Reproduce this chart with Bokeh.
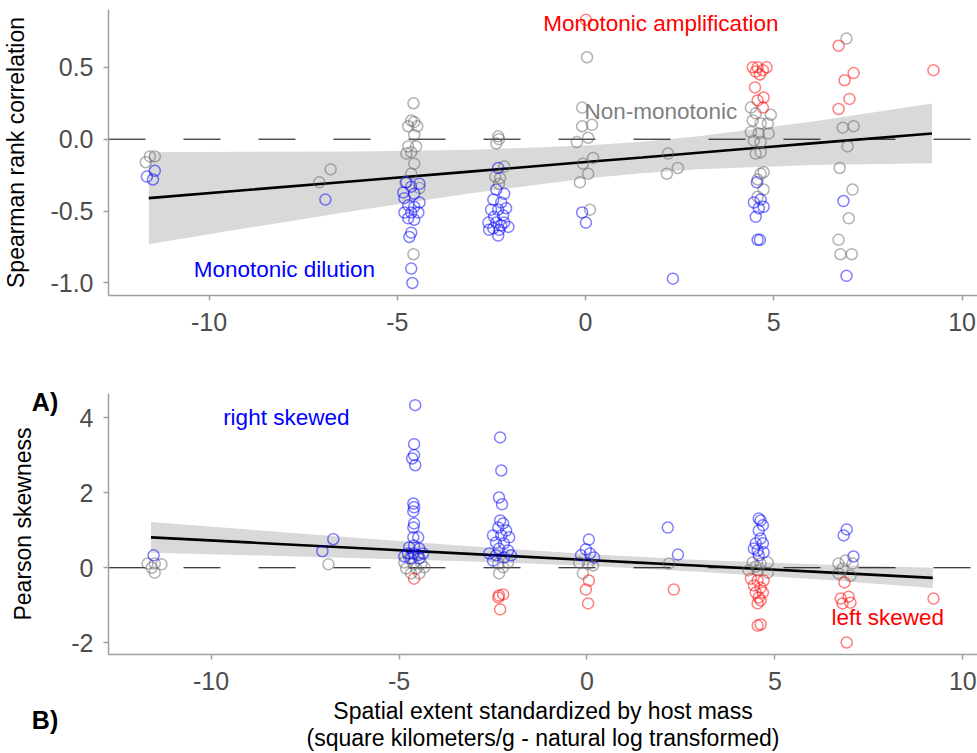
from bokeh.plotting import figure
from bokeh.layouts import column
from bokeh.models import Range1d, FixedTicker, PrintfTickFormatter, Label, LinearAxis
from bokeh.embed import file_html
from bokeh.resources import INLINE

# ---------------- Panel A: Spearman rank correlation ----------------
top_gray_x = [-11.57, -11.44, -11.68, -7.07, -6.77,
              -4.57, -4.63, -4.71, -4.47, -4.55, -4.55, -4.71, -4.50, -4.63, -4.76, -4.55, -4.63, -4.41, -4.78, -4.57,
              -2.32, -2.37, -2.30, -2.16, -2.40, -2.27, -2.30,
              0.04, -0.09, -0.09, 0.17, -0.23, 0.07, 0.20, -0.07, 0.07, -0.15, 0.12,
              2.19, 2.16, 2.45,
              4.39, 4.52, 4.92, 4.44, 4.65, 4.84, 4.39, 4.60, 4.86, 4.47, 4.65, 4.52, 4.65, 4.65, 4.73, 4.57, 4.73, 4.57,
              6.93, 6.83, 7.12, 6.96, 6.75, 7.09, 6.99, 6.72, 6.77, 7.07]
top_gray_y = [-0.12, -0.12, -0.16, -0.30, -0.21,
              0.25, 0.13, 0.09, 0.09, 0.12, 0.03, -0.05, -0.05, -0.09, -0.10, -0.17, -0.24, -0.34, -0.30, -0.80,
              0.02, -0.03, 0.00, -0.19, -0.26, -0.27, -0.31,
              0.57, 0.22, 0.09, 0.10, -0.02, 0.01, -0.13, -0.17, -0.24, -0.30, -0.49,
              -0.10, -0.24, -0.20,
              0.22, 0.18, 0.17, 0.13, 0.11, 0.11, 0.05, 0.04, 0.04, -0.01, -0.02, -0.10, -0.09, -0.24, -0.23, -0.28, -0.35, -0.40,
              0.70, 0.08, 0.09, -0.05, -0.20, -0.35, -0.55, -0.70, -0.80, -0.80]

top_blue_x = [-11.44, -11.65, -11.49, -6.91,
              -4.76, -4.41, -4.63, -4.84, -4.55, -4.81, -4.41, -4.71, -4.55, -4.81, -4.63, -4.44, -4.71, -4.55, -4.63, -4.68, -4.63, -4.60,
              -2.32, -2.37, -2.16, -2.45, -2.24, -2.11, -2.51, -2.32, -2.19, -2.43, -2.58, -2.37, -2.16, -2.24, -2.45, -2.29, -2.05, -2.56, -2.32,
              -0.09, 0.01,
              2.32,
              4.55, 4.47, 4.65, 4.60, 4.73, 4.52, 4.57, 4.63,
              6.85, 6.93]
top_blue_y = [-0.22, -0.26, -0.28, -0.42,
              -0.30, -0.31, -0.33, -0.37, -0.38, -0.41, -0.44, -0.46, -0.47, -0.51, -0.51, -0.51, -0.55, -0.56, -0.65, -0.68, -0.90, -1.00,
              -0.20, -0.35, -0.38, -0.42, -0.44, -0.48, -0.49, -0.49, -0.53, -0.54, -0.58, -0.58, -0.58, -0.60, -0.62, -0.63, -0.61, -0.63, -0.67,
              -0.51, -0.58,
              -0.97,
              -0.30, -0.44, -0.42, -0.48, -0.47, -0.54, -0.70, -0.70,
              -0.43, -0.95]

top_red_x = [0.01,
             4.44, 4.57, 4.71, 4.81, 4.52, 4.63, 4.50, 4.73, 4.57, 4.71,
             6.72, 7.12, 6.88, 7.01, 6.72,
             9.24]
top_red_y = [0.83,
             0.50, 0.50, 0.48, 0.50, 0.47, 0.45, 0.36, 0.29, 0.27, 0.22,
             0.65, 0.46, 0.41, 0.28, 0.21,
             0.48]

# fitted line and confidence band
fit_x = [-11.6, -9, -6, -3, 0, 1.5, 3, 6, 9.2]
top_fit = [-0.410, -0.353, -0.289, -0.224, -0.159, -0.127, -0.094, -0.029, 0.040]
top_upper = [-0.09, -0.088, -0.085, -0.073, -0.044, -0.017, 0.021, 0.122, 0.248]
top_lower = [-0.73, -0.618, -0.493, -0.375, -0.274, -0.237, -0.209, -0.180, -0.168]

# ---------------- Panel B: Pearson skewness ----------------
bot_gray_x = [-11.69, -11.50, -11.32, -11.58, -11.50, -6.88,
              -4.86, -4.62, -4.41, -4.81, -4.54, -4.33, -4.68, -4.46, -4.73,
              -2.36, -2.23, -2.34, -2.10,
              -0.21, 0.03, 0.16, -0.11,
              2.18,
              4.41, 4.62, 4.81, 4.30, 4.54, 4.81, 4.49,
              6.69, 6.88, 7.07, 6.80, 6.69, 7.01]
bot_gray_y = [0.11, 0.11, 0.09, 0.00, -0.13, 0.09,
              0.14, 0.11, 0.11, -0.02, -0.02, 0.01, -0.15, -0.15, 0.25,
              0.11, 0.01, -0.15, 0.14,
              0.14, 0.11, 0.06, -0.15,
              0.11,
              0.14, 0.11, 0.14, -0.07, -0.07, -0.13, 0.03,
              0.11, 0.19, 0.11, -0.02, -0.15, -0.21]

bot_blue_x = [-11.53, -7.04, -6.75,
              -4.57, -4.60, -4.60, -4.65, -4.57, -4.62, -4.60, -4.62, -4.60, -4.62, -4.62, -4.49, -4.73, -4.60, -4.46, -4.76, -4.62, -4.49, -4.36, -4.68, -4.46, -4.86,
              -2.31, -2.28, -2.34, -2.26, -2.31, -2.23, -2.36, -2.15, -2.50, -2.28, -2.07, -2.42, -2.21, -2.34, -2.10, -2.60, -2.42, -2.21, -2.02, -2.50,
              0.05, -0.03, 0.08, -0.16, 0.19,
              2.15, 2.42,
              4.57, 4.62, 4.68, 4.57, 4.62, 4.49, 4.68, 4.54, 4.70, 4.57, 4.44,
              6.91, 6.83, 7.09]
bot_blue_y = [0.33, 0.44, 0.76,
              4.33, 3.29, 3.00, 2.91, 2.73, 1.71, 1.61, 1.50, 1.18, 1.07, 0.81, 0.81, 0.54, 0.59, 0.51, 0.38, 0.38, 0.33, 0.38, 0.25, 0.25, 0.30,
              3.47, 2.59, 1.87, 1.69, 1.26, 1.18, 1.07, 0.99, 0.86, 0.86, 0.81, 0.67, 0.65, 0.51, 0.46, 0.38, 0.33, 0.27, 0.33, 0.19,
              0.75, 0.49, 0.38, 0.33, 0.27,
              1.07, 0.35,
              1.31, 1.26, 1.13, 0.99, 0.78, 0.65, 0.65, 0.46, 0.41, 0.33, 0.51,
              1.02, 0.86, 0.30]

bot_red_x = [-4.60,
             -2.34, -2.23, -2.36, -2.31,
             0.05, -0.03, 0.03,
             2.31,
             4.36, 4.54, 4.70, 4.44, 4.62, 4.49, 4.68, 4.57, 4.62, 4.54, 4.54, 4.62,
             6.85, 6.75, 6.96, 6.80, 7.01, 6.91,
             9.22]
bot_red_y = [-0.29,
             -0.74, -0.71, -0.79, -1.11,
             -0.34, -0.58, -0.95,
             -0.58,
             -0.29, -0.34, -0.34, -0.47, -0.53, -0.66, -0.66, -0.79, -0.87, -0.95, -1.54, -1.51,
             -0.39, -0.82, -0.77, -0.95, -0.93, -1.99,
             -0.82]

bot_fit = [0.810, 0.675, 0.519, 0.364, 0.208, 0.130, 0.052, -0.103, -0.269]
bot_upper = [1.22, 1.016, 0.784, 0.563, 0.364, 0.286, 0.208, 0.096, 0.001]
bot_lower = [0.40, 0.334, 0.254, 0.165, 0.052, -0.026, -0.104, -0.302, -0.539]

top_yticks = [-1.0, -0.5, 0.0, 0.5]
bot_yticks = [-2, 0, 2, 4]
xticks = [-10, -5, 0, 5, 10]

FONT = "Liberation Sans"
BLUE = "#0000FF"
RED = "#FF0000"
GRAY = "#666666"
AXIS_COL = "#A0A0A0"


def style_axis(ax):
    ax.axis_line_color = AXIS_COL
    ax.axis_line_width = 1.5
    ax.major_tick_line_color = AXIS_COL
    ax.major_tick_line_width = 1.5
    ax.major_tick_out = 5
    ax.major_tick_in = 0
    ax.minor_tick_line_color = None
    ax.major_label_text_font = FONT
    ax.major_label_text_font_size = "25px"
    ax.major_label_text_color = "#4D4D4D"
    ax.axis_label_text_font = FONT
    ax.axis_label_text_font_size = "23px"
    ax.axis_label_text_font_style = "normal"
    ax.axis_label_text_color = "black"


def style(p):
    p.grid.visible = False
    p.outline_line_color = None
    p.background_fill_color = "white"
    p.border_fill_color = "white"
    style_axis(p.xaxis[0])
    style_axis(p.yaxis[0])
    p.xaxis[0].ticker = FixedTicker(ticks=xticks)
    p.xaxis[0].formatter = PrintfTickFormatter(format="%d")
    p.xaxis[0].major_label_standoff = 12
    p.yaxis[0].major_label_standoff = 10


def draw_points(p, gx, gy, bx, by, rx, ry):
    for xs, ys, col in ((gx, gy, GRAY), (bx, by, BLUE), (rx, ry, RED)):
        p.scatter(xs, ys, marker="circle", size=11, fill_color=None,
                  line_color=col, line_alpha=0.5, line_width=1.5)


# ---------- Figure A ----------
p1 = figure(width=977, height=385, output_backend="svg", toolbar_location=None,
            x_range=Range1d(-12.67, 10.41), y_range=Range1d(-1.087, 0.902),
            min_border_left=106, min_border_right=0, min_border_top=9, min_border_bottom=90)
style(p1)
p1.yaxis[0].ticker = FixedTicker(ticks=top_yticks)
p1.yaxis[0].formatter = PrintfTickFormatter(format="%.1f")
p1.yaxis[0].axis_label = "Spearman rank correlation"
p1.yaxis[0].axis_label_standoff = 18

p1.varea(x=fit_x, y1=top_lower, y2=top_upper, fill_color="#D9D9D9", fill_alpha=1.0)
p1.line(x=[p1.x_range.start, p1.x_range.end], y=[0, 0], line_color="black",
        line_width=1, line_dash="37 38")
p1.line(x=fit_x, y=top_fit, line_color="black", line_width=2.6)
draw_points(p1, top_gray_x, top_gray_y, top_blue_x, top_blue_y, top_red_x, top_red_y)

for txt, x, y, col in (("Monotonic amplification", 2.0, 0.805, RED),
                       ("Non-monotonic", 2.0, 0.19, "#7F7F7F"),
                       ("Monotonic dilution", -8.0, -0.905, BLUE)):
    p1.add_layout(Label(x=x, y=y, text=txt, text_color=col, text_font=FONT,
                        text_font_size="22.5px", text_align="center", text_baseline="middle"))

# ---------- Figure B ----------
p2 = figure(width=977, height=368, output_backend="svg", toolbar_location=None,
            x_range=Range1d(-12.73, 10.39), y_range=Range1d(-2.31, 4.64),
            min_border_left=106, min_border_right=0, min_border_top=8, min_border_bottom=99)
style(p2)
p2.yaxis[0].ticker = FixedTicker(ticks=bot_yticks)
p2.yaxis[0].formatter = PrintfTickFormatter(format="%d")
p2.xaxis[0].axis_label = "Spatial extent standardized by host mass\n(square kilometers/g - natural log transformed)"
p2.xaxis[0].axis_label_standoff = 5
p2.xaxis[0].axis_label_text_line_height = 1.05

p2.varea(x=fit_x, y1=bot_lower, y2=bot_upper, fill_color="#D9D9D9", fill_alpha=1.0)
p2.line(x=[p2.x_range.start, p2.x_range.end], y=[0, 0], line_color="black",
        line_width=1, line_dash="37 38")
p2.line(x=fit_x, y=bot_fit, line_color="black", line_width=2.6)
draw_points(p2, bot_gray_x, bot_gray_y, bot_blue_x, bot_blue_y, bot_red_x, bot_red_y)

for txt, x, y, col in (("right skewed", -8.0, 4.0, BLUE),
                       ("left skewed", 8.0, -1.33, RED)):
    p2.add_layout(Label(x=x, y=y, text=txt, text_color=col, text_font=FONT,
                        text_font_size="22.5px", text_align="center", text_baseline="middle"))

# panel tags "A)" and "B)": one two-line label in the left side panel (not clipped)
p2.add_layout(Label(x=-14.77, y=0.18, text="A)\nB)",
                    text_color="black", text_font=FONT,
                    text_font_size="25px", text_font_style="bold",
                    text_line_height=11.38,
                    text_align="left", text_baseline="middle"), "left")

# y-axis title of panel B on an outer, tick-less axis
title_axis = LinearAxis(ticker=FixedTicker(ticks=[]), axis_label="Pearson skewness")
style_axis(title_axis)
title_axis.axis_line_color = None
title_axis.major_tick_line_color = None
title_axis.major_tick_out = 0
title_axis.minor_tick_out = 0
title_axis.major_label_standoff = 0
title_axis.axis_label_standoff = 7
p2.add_layout(title_axis, "left")

layout = column(p1, p2, spacing=0)
open("out.html", "w").write(file_html(layout, INLINE))
